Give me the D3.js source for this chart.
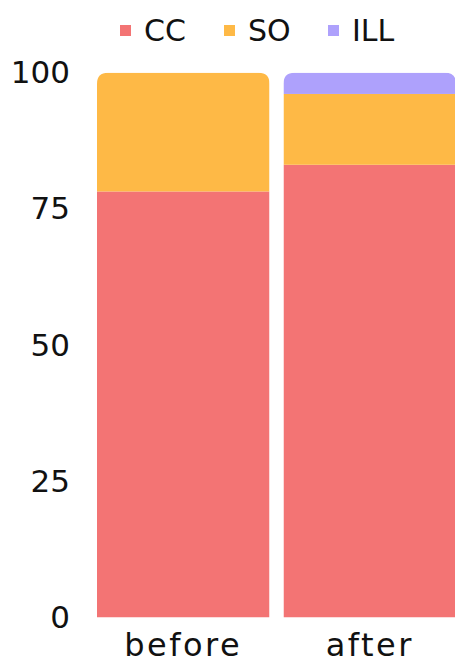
<!DOCTYPE html>
<html>
<head>
<meta charset="utf-8">
<script src="https://cdn.jsdelivr.net/npm/d3@7"></script>
<style>
  body { margin: 0; background: #fff; }
  svg text { font-family: "DejaVu Sans", sans-serif; fill: #111; }
</style>
</head>
<body>
<script>
const categories = ['before', 'after'];
const seriesNames = ['CC', 'SO', 'ILL'];
const ccValues = [78.2, 83.1];
const soValues = [21.8, 13.0];
const illValues = [0, 3.9];
const yTicks = [0, 25, 50, 75, 100];
const colors = ['#f37474', '#feb946', '#aea1fc'];

function draw() {
    const width = 455;
    const height = 665;

    const x = d3.scaleBand().domain(categories).range([97, 456]).paddingInner(0.075).paddingOuter(0);
    const y = d3.scaleLinear().domain([0, 100]).range([617.5, 72.7]);

    const rows = categories.map((c, i) => ({
        cat: c, CC: ccValues[i], SO: soValues[i], ILL: illValues[i]
    }));
    const stacked = d3.stack().keys(seriesNames)(rows);

    const svg = d3.select('body').append('svg')
        .attr('width', width)
        .attr('height', height);

    // rounded top for each bar
    const r = 11;
    const defs = svg.append('defs');
    categories.forEach((c, i) => {
        const x0 = x(c), x1 = x(c) + x.bandwidth();
        const top = y(100), bot = y(0);
        defs.append('clipPath').attr('id', 'clip' + i)
            .append('path')
            .attr('d', `M${x0},${bot} L${x0},${top + r} Q${x0},${top} ${x0 + r},${top} L${x1 - r},${top} Q${x1},${top} ${x1},${top + r} L${x1},${bot} Z`);
    });

    const bars = svg.append('g');
    categories.forEach((c, i) => {
        const g = bars.append('g').attr('clip-path', `url(#clip${i})`);
        stacked.forEach((s, k) => {
            const d = s[i];
            if (d[1] - d[0] <= 0) return;
            g.append('rect')
                .attr('x', x(c))
                .attr('width', x.bandwidth())
                .attr('y', y(d[1]))
                .attr('height', y(d[0]) - y(d[1]))
                .attr('fill', colors[k]);
        });
    });

    // y axis labels
    const yAxis = svg.append('g')
        .attr('transform', 'translate(70,0)')
        .call(d3.axisLeft(y).tickValues(yTicks).tickSize(0).tickPadding(0));
    yAxis.select('.domain').remove();
    yAxis.selectAll('text')
        .attr('font-size', 31)
        .attr('font-family', '"DejaVu Sans", sans-serif')
        .attr('fill', '#111');

    // x axis labels
    const xAxis = svg.append('g')
        .attr('transform', 'translate(0,633)')
        .call(d3.axisBottom(x).tickSize(0).tickPadding(0));
    xAxis.select('.domain').remove();
    xAxis.selectAll('text')
        .attr('font-size', 32)
        .attr('letter-spacing', 2.5)
        .attr('font-family', '"DejaVu Sans", sans-serif')
        .attr('fill', '#111');

    // legend
    const legendX = [120, 224, 328];
    const legend = svg.append('g');
    seriesNames.forEach((name, k) => {
        legend.append('rect')
            .attr('x', legendX[k]).attr('y', 25)
            .attr('width', 11).attr('height', 11)
            .attr('fill', colors[k]);
        legend.append('text')
            .attr('x', legendX[k] + 24).attr('y', 30.5)
            .attr('dominant-baseline', 'central')
            .attr('font-size', 30)
            .text(name);
    });
}

document.addEventListener('DOMContentLoaded', () => draw());
</script>
</body>
</html>
